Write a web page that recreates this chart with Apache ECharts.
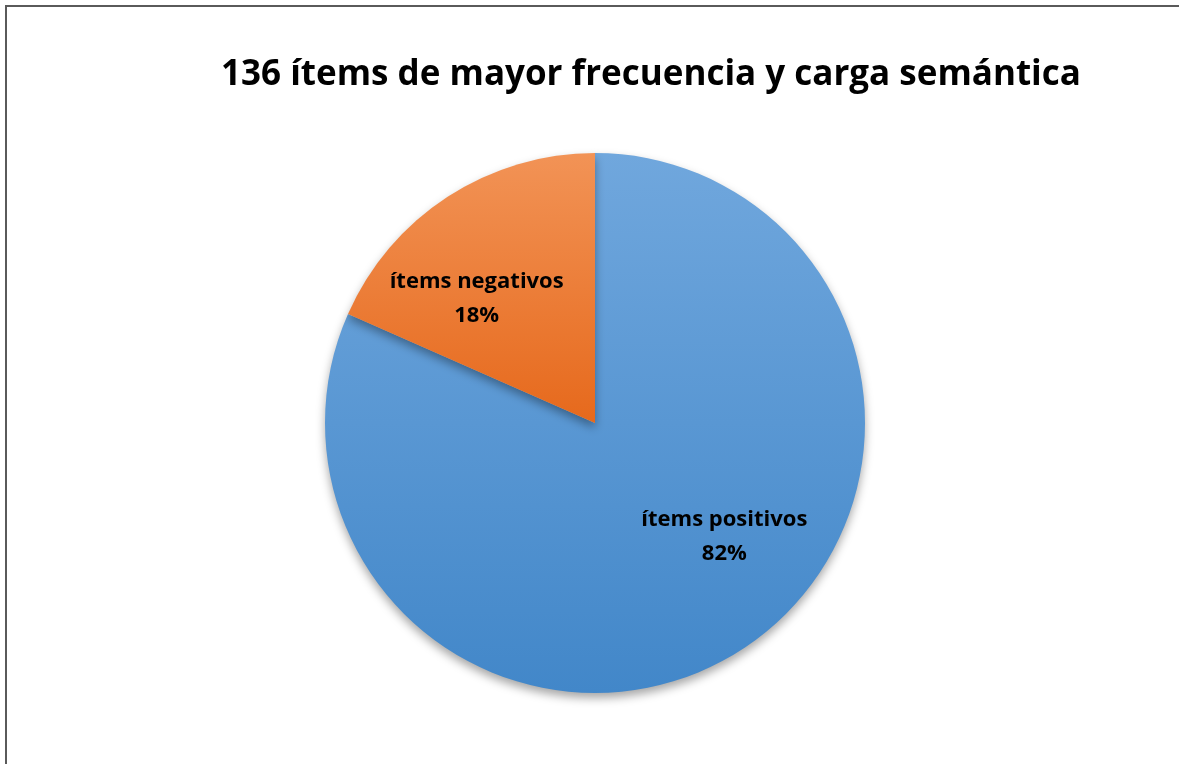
<!DOCTYPE html>
<html>
<head>
<meta charset="utf-8">
<script src="https://cdn.jsdelivr.net/npm/echarts@6/dist/echarts.min.js"></script>
<style>
html,body{margin:0;padding:0;background:#fff;}
#frame{position:absolute;left:5px;top:5px;width:1200px;height:800px;border-top:2px solid #5a5a5a;border-left:2px solid #5a5a5a;}
#chart{position:absolute;left:-7px;top:-7px;width:1179px;height:764px;}
</style>
</head>
<body>
<div id="frame"><div id="chart"></div></div>
<script>
const titleText = '136 ítems de mayor frecuencia y carga semántica';
const categories = ['ítems positivos', 'ítems negativos'];
const values = [111, 25];
const colorsTop = ['#70a7dd', '#f29356'];
const colorsBottom = ['#4287c9', '#e6691c'];
const labelShift = [[54, -2], [-43, -9]];

const chart = echarts.init(document.getElementById('chart'));
chart.setOption({
  animation: false,
  title: {
    text: titleText,
    left: 646, top: 53, textAlign: 'center',
    textStyle: {fontFamily: 'Open Sans', fontWeight: 'bold', fontSize: 35, color: '#000'}
  },
  series: [{
    type: 'pie',
    center: [595, 423],
    radius: [0, 270],
    startAngle: 90,
    clockwise: true,
    data: categories.map((c, i) => ({
      name: c, value: values[i],
      itemStyle: {
        color: new echarts.graphic.LinearGradient(0, 0, 0, 1, [
          {offset: 0, color: colorsTop[i]}, {offset: 1, color: colorsBottom[i]}
        ])
      }
    })),
    itemStyle: {shadowColor: 'rgba(0,0,0,0.35)', shadowBlur: 10, shadowOffsetY: 5},
    label: {
      position: 'inside',
      formatter: '{b}\n{d}%',
      fontFamily: 'Open Sans', fontWeight: 'bold', fontSize: 22, color: '#000',
      lineHeight: 34, align: 'center'
    },
    labelLayout: function (p) {
      const s = labelShift[p.dataIndex];
      return {dx: s[0], dy: s[1]};
    },
    percentPrecision: 0,
    emphasis: {disabled: true}
  }]
});
</script>
</body>
</html>
